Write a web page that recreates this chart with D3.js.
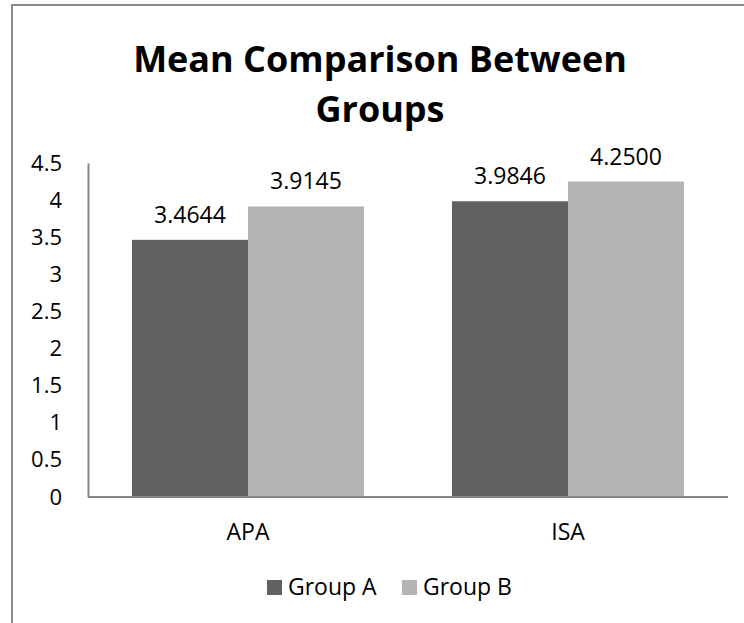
<!DOCTYPE html>
<html><head><meta charset="utf-8">
<script src="https://cdn.jsdelivr.net/npm/d3@7"></script>
<style>body{margin:0;background:#fff}svg{display:block}text{font-family:"Open Sans",sans-serif;fill:#000}</style>
</head><body><svg id="c" width="744" height="623"></svg>
<script>
const categories = ["APA", "ISA"];
const seriesNames = ["Group A", "Group B"];
const groupA = [3.4644, 3.9846];
const groupB = [3.9145, 4.2500];
const yTicks = [0, 0.5, 1, 1.5, 2, 2.5, 3, 3.5, 4, 4.5];
const colors = ["#616161", "#b3b3b3"];
const series = [groupA, groupB];

const svg = d3.select("#c");
// frame
svg.append("path").attr("d","M12,623 V5 H744").attr("fill","none").attr("stroke","#8c8c8c").attr("stroke-width",2);

const L = 88, R = 728, T = 163, B = 497;
const x0 = d3.scaleBand().domain(categories).range([L, R]).paddingInner(0.275).paddingOuter(0.1375);
const x1 = d3.scaleBand().domain(seriesNames).range([0, x0.bandwidth()]);
const y = d3.scaleLinear().domain([0, 4.5]).range([B, T]);

// title (two separate lines)
svg.append("text").attr("text-anchor","middle").attr("font-weight","bold").attr("font-size",36)
  .attr("x",380).attr("y",72).text("Mean Comparison Between");
svg.append("text").attr("text-anchor","middle").attr("font-weight","bold").attr("font-size",36)
  .attr("x",380).attr("y",122).text("Groups");

// bars
const g = svg.append("g");
categories.forEach((c, i) => {
  series.forEach((s, j) => {
    g.append("rect").attr("x", x0(c) + x1(seriesNames[j])).attr("y", y(s[i]))
      .attr("width", x1.bandwidth()).attr("height", B - y(s[i])).attr("fill", colors[j]);
    g.append("text").attr("x", x0(c) + x1(seriesNames[j]) + x1.bandwidth()/2).attr("y", y(s[i]) - 17)
      .attr("text-anchor","middle").attr("font-size",23).text(s[i].toFixed(4));
  });
});

// axes
const yAxis = d3.axisLeft(y).tickValues(yTicks).tickSize(0).tickPadding(26).tickFormat(d => String(d));
const ya = svg.append("g").attr("transform",`translate(${L},0)`).call(yAxis);
ya.select(".domain").attr("stroke","#868686").attr("stroke-width",2);
ya.selectAll("text").attr("font-size",22).attr("font-family","Open Sans").attr("fill","#000");

const xAxis = d3.axisBottom(x0).tickSize(0).tickPadding(27);
const xa = svg.append("g").attr("transform",`translate(0,${B})`).call(xAxis);
xa.select(".domain").attr("stroke","#868686").attr("stroke-width",2).attr("d",`M${L},0H${R}`);
xa.selectAll("text").attr("font-size",23).attr("font-family","Open Sans").attr("fill","#000");

// legend
const legX = [267, 402];
seriesNames.forEach((n, j) => {
  svg.append("rect").attr("x", legX[j]).attr("y", 580).attr("width", 15).attr("height", 15).attr("fill", colors[j]);
  svg.append("text").attr("x", legX[j] + 21).attr("y", 595).attr("font-size",23).text(n);
});
</script></body></html>
